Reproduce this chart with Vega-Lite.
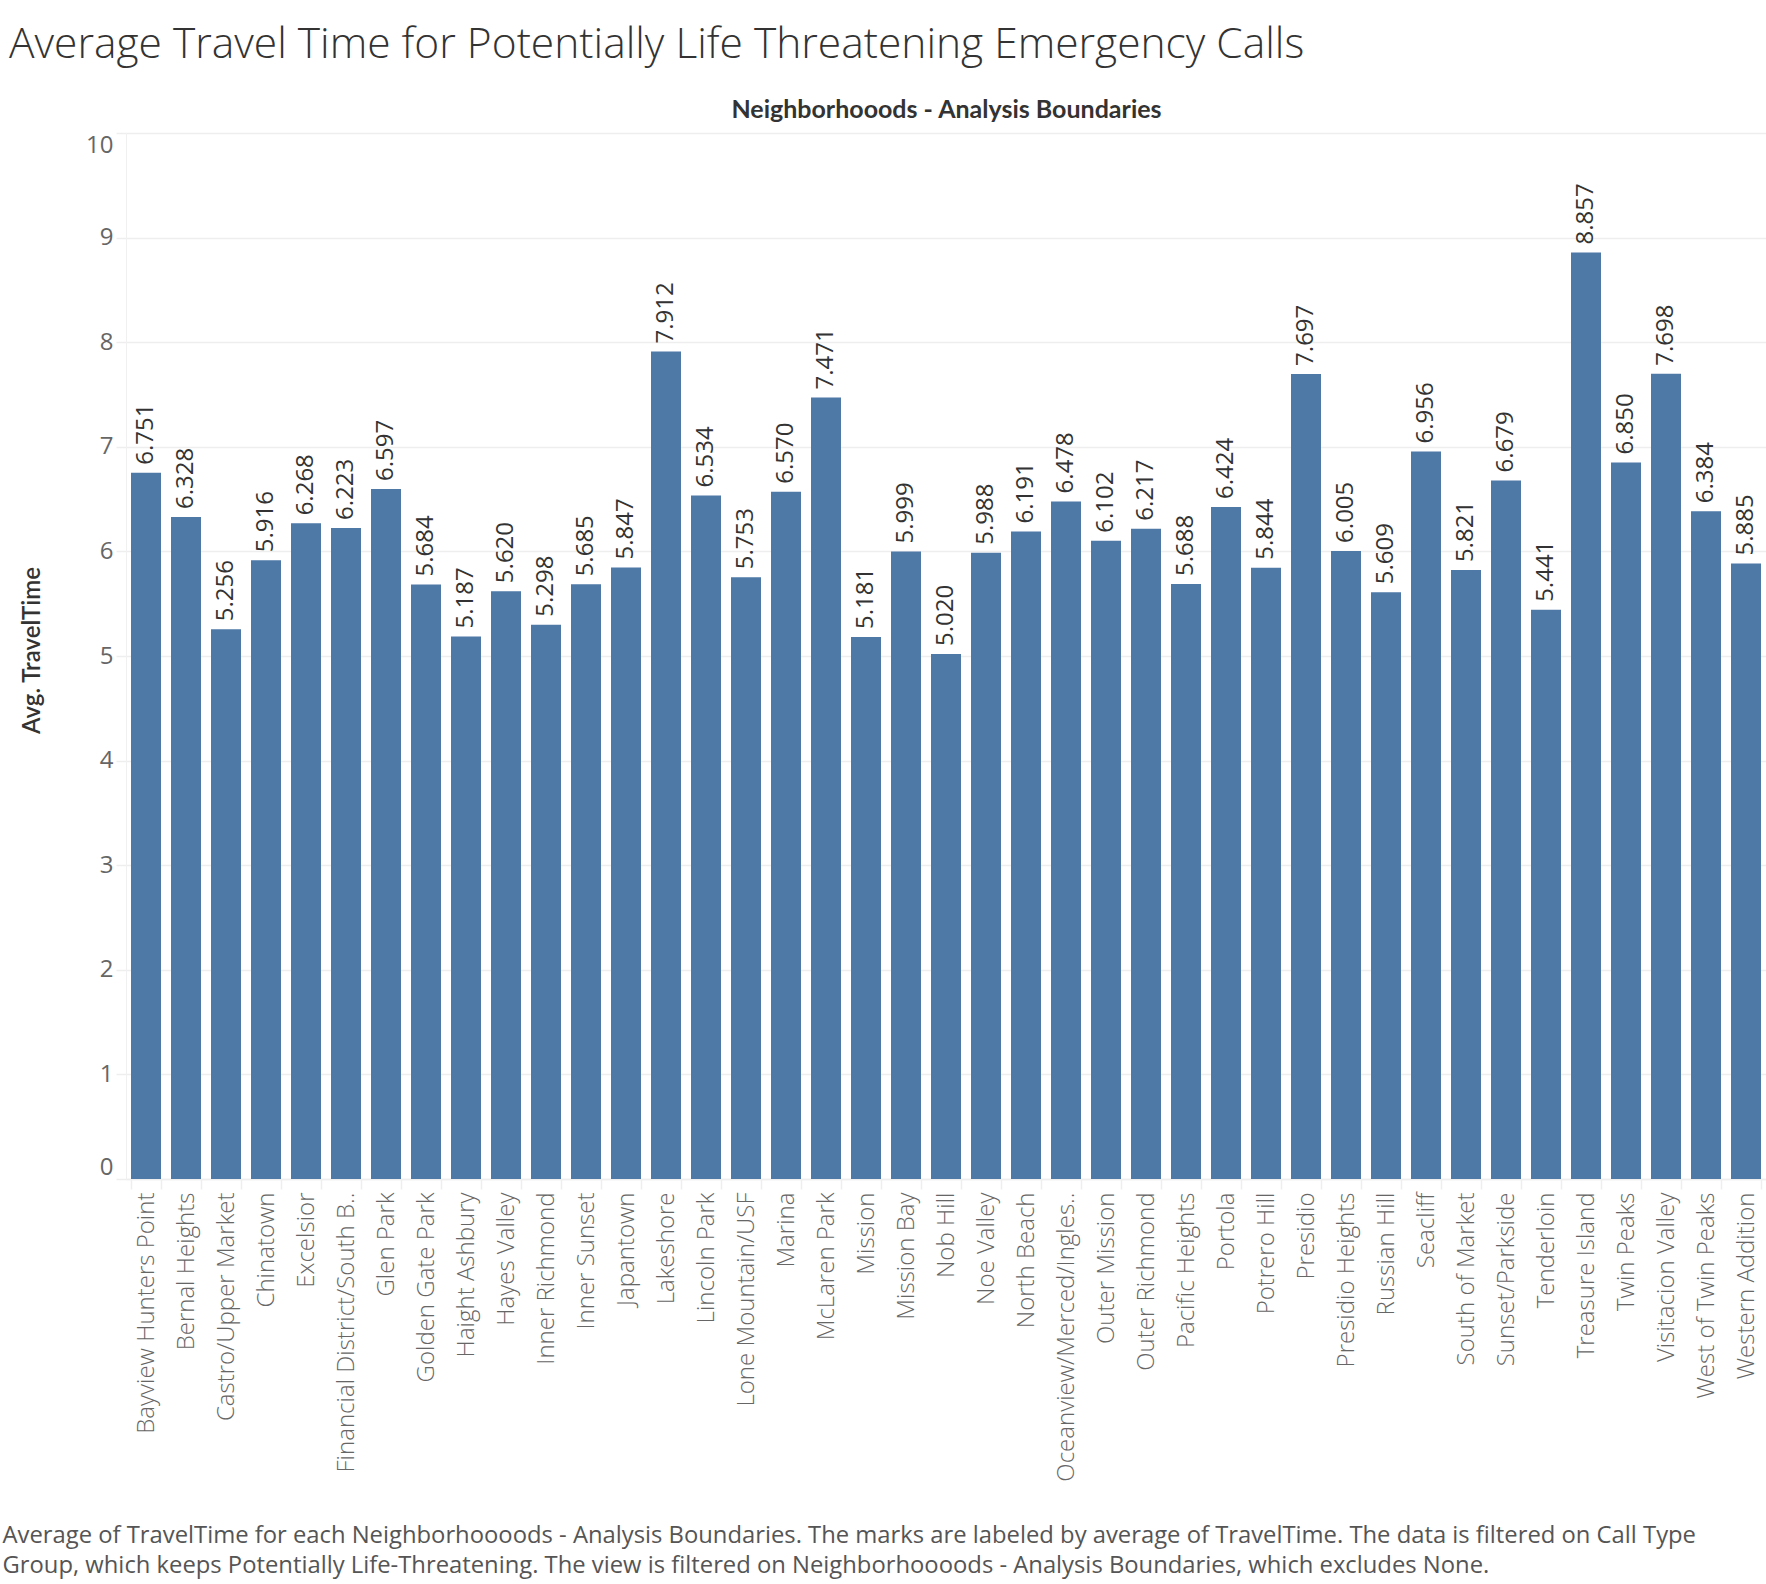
{
  "$schema": "https://vega.github.io/schema/vega-lite/v6.json",
  "width": 1640,
  "height": 1046,
  "autosize": {"type": "none"},
  "padding": {"left": 126, "top": 133, "right": 0, "bottom": 405},
  "background": "white",
  "title": {
    "text": "Average Travel Time for Potentially Life Threatening Emergency Calls",
    "anchor": "start",
    "frame": "group",
    "orient": "top",
    "dx": -117,
    "dy": 43,
    "offset": 40,
    "baseline": "alphabetic",
    "font": "Open Sans",
    "fontWeight": 300,
    "fontSize": 42.5,
    "color": "#333333"
  },
  "data": {
    "values": [
      {"Neighborhood": "Bayview Hunters Point", "AvgTravelTime": 6.751},
      {"Neighborhood": "Bernal Heights", "AvgTravelTime": 6.328},
      {"Neighborhood": "Castro/Upper Market", "AvgTravelTime": 5.256},
      {"Neighborhood": "Chinatown", "AvgTravelTime": 5.916},
      {"Neighborhood": "Excelsior", "AvgTravelTime": 6.268},
      {"Neighborhood": "Financial District/South Beach", "AvgTravelTime": 6.223},
      {"Neighborhood": "Glen Park", "AvgTravelTime": 6.597},
      {"Neighborhood": "Golden Gate Park", "AvgTravelTime": 5.684},
      {"Neighborhood": "Haight Ashbury", "AvgTravelTime": 5.187},
      {"Neighborhood": "Hayes Valley", "AvgTravelTime": 5.620},
      {"Neighborhood": "Inner Richmond", "AvgTravelTime": 5.298},
      {"Neighborhood": "Inner Sunset", "AvgTravelTime": 5.685},
      {"Neighborhood": "Japantown", "AvgTravelTime": 5.847},
      {"Neighborhood": "Lakeshore", "AvgTravelTime": 7.912},
      {"Neighborhood": "Lincoln Park", "AvgTravelTime": 6.534},
      {"Neighborhood": "Lone Mountain/USF", "AvgTravelTime": 5.753},
      {"Neighborhood": "Marina", "AvgTravelTime": 6.570},
      {"Neighborhood": "McLaren Park", "AvgTravelTime": 7.471},
      {"Neighborhood": "Mission", "AvgTravelTime": 5.181},
      {"Neighborhood": "Mission Bay", "AvgTravelTime": 5.999},
      {"Neighborhood": "Nob Hill", "AvgTravelTime": 5.020},
      {"Neighborhood": "Noe Valley", "AvgTravelTime": 5.988},
      {"Neighborhood": "North Beach", "AvgTravelTime": 6.191},
      {"Neighborhood": "Oceanview/Merced/Ingleside", "AvgTravelTime": 6.478},
      {"Neighborhood": "Outer Mission", "AvgTravelTime": 6.102},
      {"Neighborhood": "Outer Richmond", "AvgTravelTime": 6.217},
      {"Neighborhood": "Pacific Heights", "AvgTravelTime": 5.688},
      {"Neighborhood": "Portola", "AvgTravelTime": 6.424},
      {"Neighborhood": "Potrero Hill", "AvgTravelTime": 5.844},
      {"Neighborhood": "Presidio", "AvgTravelTime": 7.697},
      {"Neighborhood": "Presidio Heights", "AvgTravelTime": 6.005},
      {"Neighborhood": "Russian Hill", "AvgTravelTime": 5.609},
      {"Neighborhood": "Seacliff", "AvgTravelTime": 6.956},
      {"Neighborhood": "South of Market", "AvgTravelTime": 5.821},
      {"Neighborhood": "Sunset/Parkside", "AvgTravelTime": 6.679},
      {"Neighborhood": "Tenderloin", "AvgTravelTime": 5.441},
      {"Neighborhood": "Treasure Island", "AvgTravelTime": 8.857},
      {"Neighborhood": "Twin Peaks", "AvgTravelTime": 6.850},
      {"Neighborhood": "Visitacion Valley", "AvgTravelTime": 7.698},
      {"Neighborhood": "West of Twin Peaks", "AvgTravelTime": 6.384},
      {"Neighborhood": "Western Addition", "AvgTravelTime": 5.885}
    ]
  },
  "encoding": {
    "y": {
      "field": "AvgTravelTime",
      "type": "quantitative",
      "scale": {"domain": [0, 10], "nice": false, "zero": true},
      "axis": {
        "title": "Avg. TravelTime",
        "titleFont": "Lato",
        "titleFontSize": 24,
        "titleFontWeight": 600,
        "titleColor": "#333333",
        "titleX": -94,
        "titleY": 517,
        "titleAngle": 270,
        "titleAlign": "center",
        "titleBaseline": "middle",
        "values": [0, 1, 2, 3, 4, 5, 6, 7, 8, 9, 10],
        "labelFont": "Open Sans",
        "labelFontSize": 24,
        "labelColor": "#666666",
        "labelPadding": 3,
        "labelFlush": true,
        "tickSize": 10,
        "tickColor": "#eeeeee",
        "tickWidth": 1.5,
        "grid": true,
        "gridColor": "#eeeeee",
        "gridWidth": 1.5,
        "domain": true,
        "domainColor": "#f0f0f0",
        "domainWidth": 1
      }
    }
  },
  "layer": [
    {
      "mark": {"type": "bar", "color": "#4e79a7"},
      "encoding": {
        "x": {
          "field": "Neighborhood",
          "type": "nominal",
          "sort": null,
          "scale": {"paddingInner": 0.25, "paddingOuter": 0.125},
          "axis": {
            "orient": "bottom",
            "title": [
              "Average of TravelTime for each Neighborhoooods - Analysis Boundaries.  The marks are labeled by average of TravelTime. The data is filtered on Call Type",
              "Group, which keeps Potentially Life-Threatening. The view is filtered on Neighborhoooods - Analysis Boundaries, which excludes None."
            ],
            "titleFont": "Open Sans",
            "titleFontSize": 23.8,
            "titleFontWeight": "normal",
            "titleColor": "#555555",
            "titleAnchor": "start",
            "titleAlign": "left",
            "titleBaseline": "alphabetic",
            "titleX": -124,
            "titleY": 363,
            "titleLineHeight": 30,
            "titleLimit": 2000,
            "labelAngle": -90,
            "labelAlign": "right",
            "labelBaseline": "middle",
            "labelFont": "Open Sans",
            "labelFontWeight": 300,
            "labelFontSize": 24,
            "labelColor": "#666666",
            "labelPadding": 3,
            "labelLimit": 400,
            "labelExpr": "datum.label == 'Financial District/South Beach' ? 'Financial District/South B..' : (datum.label == 'Oceanview/Merced/Ingleside' ? 'Oceanview/Merced/Ingles..' : datum.label)",
            "tickBand": "extent",
            "tickSize": 10,
            "tickColor": "#eeeeee",
            "tickWidth": 1.5,
            "domain": true,
            "domainColor": "#eeeeee",
            "domainWidth": 1.5,
            "grid": false
          }
        }
      }
    },
    {
      "mark": {
        "type": "text",
        "angle": -90,
        "align": "left",
        "baseline": "middle",
        "dx": 8,
        "font": "Open Sans",
        "fontSize": 24,
        "color": "#333333"
      },
      "encoding": {
        "x": {
          "field": "Neighborhood",
          "type": "nominal",
          "sort": null,
          "axis": {
            "orient": "top",
            "title": "Neighborhooods - Analysis Boundaries",
            "titleFont": "Lato",
            "titleFontSize": 25,
            "titleFontWeight": "bold",
            "titleColor": "#333333",
            "titleBaseline": "alphabetic",
            "titleY": -16,
            "labels": false,
            "ticks": false,
            "domain": false,
            "grid": false
          }
        },
        "text": {"field": "AvgTravelTime", "type": "quantitative", "format": ".3f"}
      }
    }
  ],
  "resolve": {"axis": {"x": "independent"}},
  "config": {
    "view": {"stroke": null}
  }
}
